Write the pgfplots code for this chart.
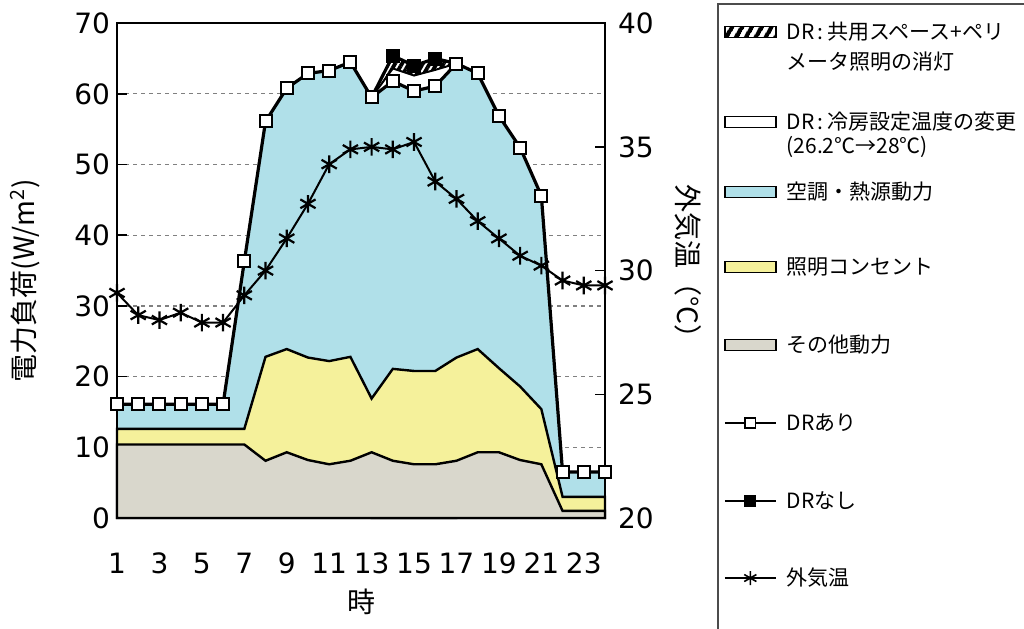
\documentclass[border=0pt]{standalone}
\usepackage{fontspec}
\setmainfont{Noto Sans CJK JP}
\newfontfamily\numfont{DejaVu Sans}
\usepackage{pgfplots}
\usepackage{pgfplotstable}
\pgfplotsset{compat=1.18}
\usetikzlibrary{patterns.meta}
\definecolor{cblue}{RGB}{176,224,233}
\definecolor{cyellow}{RGB}{245,241,155}
\definecolor{cgray}{RGB}{217,215,204}

\pgfplotstableread{
h other light dr temp
1 10.4 12.6 16.1 29.1
2 10.4 12.6 16.1 28.2
3 10.4 12.6 16.1 28.0
4 10.4 12.6 16.1 28.3
5 10.4 12.6 16.1 27.9
6 10.4 12.6 16.1 27.9
7 10.4 12.6 36.3 29.0
8 8.1 22.8 56.1 30.0
9 9.3 23.9 60.8 31.3
10 8.2 22.7 62.9 32.7
11 7.6 22.2 63.3 34.3
12 8.1 22.8 64.5 34.9
13 9.3 16.9 59.5 35.0
14 8.1 21.1 61.8 34.9
15 7.6 20.8 60.4 35.2
16 7.6 20.8 61.1 33.6
17 8.1 22.7 64.3 32.9
18 9.3 23.9 62.9 32.0
19 9.3 21.2 56.9 31.3
20 8.2 18.6 52.4 30.6
21 7.6 15.4 45.6 30.2
22 1.0 3.0 6.5 29.6
23 1.0 3.0 6.5 29.4
24 1.0 3.0 6.5 29.4
}\loadtab

\pgfplotstableread{
h nodr mid
13 59.5 59.5
14 65.4 63.6
15 64.0 62.6
16 65.0 63.4
17 64.3 64.3
}\drtab

\pgfplotsset{
  common/.style={
    at={(58.5pt,-259pt)}, anchor=south west,
    scale only axis, width=244pt, height=247.4pt,
    xmin=1, xmax=24, clip=false,
    major tick length=5pt,
    tick label style={font=\numfont\fontsize{14pt}{16pt}\selectfont},
    /pgf/number format/assume math mode=true,
    axis line style={line width=1pt},
    tick style={line width=0.8pt, black},
  },
  rectlegend/.style={legend image code/.code={\draw[##1] (0pt,1pt) rectangle (25.5pt,6.5pt);}},
  linelegend/.style={legend image code/.code={\draw[mark repeat=2,mark phase=2,##1] plot coordinates {(0pt,3.8pt) (12.75pt,3.8pt) (25.5pt,3.8pt)};}},
}

\begin{document}
\begin{tikzpicture}
\path[use as bounding box] (0,0) rectangle (512pt,-314pt);

% axis 1: fills, left scale, grid, legend
\begin{axis}[common,
  ymin=0, ymax=70, ytick={0,10,...,70}, ytick pos=left,
  xtick={1,3,...,23}, xtick style={draw=none},
  xticklabel style={yshift=-14pt},
  ymajorgrids, grid style={gray, dash pattern=on 2pt off 2pt, line width=0.6pt},
  xlabel={時},
  every axis x label/.style={at={([yshift=-42pt]axis description cs:0.5,0)}, anchor=center, font=\fontsize{14pt}{16pt}\selectfont},
  ylabel={電力負荷(W/m\textsuperscript{2})},
  every axis y label/.style={at={([xshift=-46pt]axis description cs:0,0.48)}, rotate=90, anchor=center, font=\fontsize{14pt}{16pt}\selectfont},
  legend style={at={(axis description cs:1.2439,1.0032)}, anchor=north west,
    draw=none, fill=none, inner sep=0pt, outer sep=0pt,
    column sep=5pt, row sep=0pt,
    font=\fontsize{10.5pt}{12pt}\selectfont,
    cells={anchor=base west},
    nodes={inner sep=0pt, text height=9pt}},
]
\addplot[pattern={Lines[angle=60,distance=3pt,line width=1.9pt]}, draw=none, forget plot] table[x=h,y=nodr]{\drtab} \closedcycle;
\addplot[fill=white, draw=black, line width=1pt, forget plot] table[x=h,y=mid]{\drtab} \closedcycle;
\addplot[fill=cblue, draw=none, forget plot] table[x=h,y=dr]{\loadtab} \closedcycle;
\addplot[fill=cyellow, draw=black, line width=1.2pt, forget plot] table[x=h,y=light]{\loadtab} \closedcycle;
\addplot[fill=cgray, draw=black, line width=1.2pt, forget plot] table[x=h,y=other]{\loadtab} \closedcycle;

\addlegendimage{rectlegend, pattern={Lines[angle=60,distance=4pt,line width=2.2pt]}, draw=black, line width=0.8pt}
\addlegendentry[text depth=6pt]{DR\,:\,共用スペース+ペリ}
\addlegendimage{empty legend}
\addlegendentry[text depth=21pt]{メータ照明の消灯}
\addlegendimage{rectlegend, fill=white, draw=black, line width=0.8pt}
\addlegendentry[text depth=3pt]{DR\,:\,冷房設定温度の変更}
\addlegendimage{empty legend}
\addlegendentry[text depth=14pt]{(26.2℃→28℃)}
\addlegendimage{rectlegend, fill=cblue, draw=black, line width=0.8pt}
\addlegendentry[text depth=28.5pt]{空調・熱源動力}
\addlegendimage{rectlegend, fill=cyellow, draw=black, line width=0.8pt}
\addlegendentry[text depth=30pt]{照明コンセント}
\addlegendimage{rectlegend, fill=cgray, draw=black, line width=0.8pt}
\addlegendentry[text depth=30pt]{その他動力}
\addlegendimage{linelegend, black, line width=0.8pt, mark=square*, mark size=2.6pt, mark options={fill=white, line width=0.8pt}}
\addlegendentry[text depth=30pt]{DRあり}
\addlegendimage{linelegend, black, line width=0.8pt, mark=square*, mark size=2.6pt, mark options={fill=black}}
\addlegendentry[text depth=29.5pt]{DRなし}
\addlegendimage{linelegend, black, line width=0.8pt, mark=asterisk, mark size=3.5pt}
\addlegendentry[text depth=2pt]{外気温}
\end{axis}

% axis 2: box, right scale, outdoor temperature
\begin{axis}[common,
  ymin=20, ymax=40, ytick={20,25,...,40}, ytick pos=right,
  yticklabel style={xshift=3pt},
  xtick=\empty,
  ylabel={外気温（°C）},
  every axis y label/.style={at={([xshift=41.5pt]axis description cs:1,0.505)}, rotate=-90, anchor=center, font=\fontsize{14pt}{16pt}\selectfont},
]
\addplot[black, line width=1pt, mark=asterisk, mark size=4.4pt, mark options={line width=1.1pt}] table[x=h,y=temp]{\loadtab};
\end{axis}

% axis 3: DR lines on left scale
\begin{axis}[common, hide axis, ymin=0, ymax=70]
\addplot[black, line width=1.6pt, mark=square*, mark size=3pt, mark options={fill=white, line width=1pt}] table[x=h,y=dr]{\loadtab};
\addplot[black, line width=1.6pt, mark=square*, mark size=3pt, mark options={fill=black, line width=1pt}, mark indices={2,3,4}] table[x=h,y=nodr]{\drtab};
\end{axis}

\draw[gray!60!black, line width=0.8pt] (359pt,-2pt) rectangle (540pt,-330pt);
\end{tikzpicture}
\end{document}
